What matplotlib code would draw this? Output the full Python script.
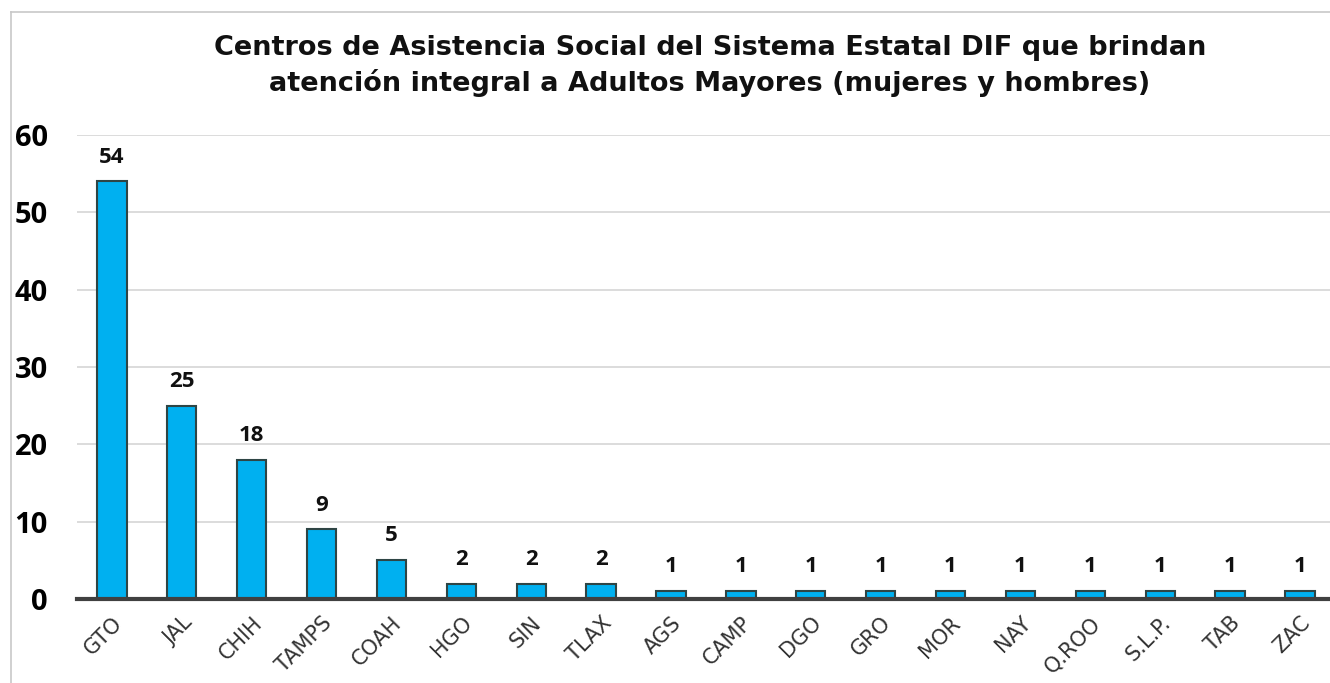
import matplotlib.pyplot as plt
from matplotlib.lines import Line2D

estados = ["GTO", "JAL", "CHIH", "TAMPS", "COAH", "HGO", "SIN", "TLAX", "AGS",
           "CAMP", "DGO", "GRO", "MOR", "NAY", "Q.ROO", "S.L.P.", "TAB", "ZAC"]
centros = [54, 25, 18, 9, 5, 2, 2, 2, 1, 1, 1, 1, 1, 1, 1, 1, 1, 1]
y_ticks = [0, 10, 20, 30, 40, 50, 60]

titulo = ("Centros de Asistencia Social del Sistema Estatal DIF que brindan\n"
          "atención integral a Adultos Mayores (mujeres y hombres)")

fig = plt.figure(figsize=(13.3, 6.83), dpi=100)
ax = fig.add_axes([77 / 1330, 1 - 599 / 683, 1 - 77 / 1330, (599 - 135) / 683])

x = range(len(estados))
ax.bar(x, centros, width=0.42, color="#00B0F0", edgecolor="#2E4545",
       linewidth=1.5, zorder=3)

for xi, v in zip(x, centros):
    ax.annotate(str(v), (xi, v), xytext=(0, 10), textcoords="offset points",
                ha="center", va="bottom", fontsize=16, fontweight="bold",
                family="Open Sans", color="#111111")

ax.set_ylim(0, 60)
ax.set_xlim(-0.5, 17.43)
ax.set_yticks(y_ticks)
ax.set_yticklabels([str(t) for t in y_ticks], fontsize=21, fontweight="bold",
                   family="Open Sans")
ax.set_xticks(list(x))
ax.set_xticklabels(estados, rotation=45, ha="right", rotation_mode="anchor",
                   fontsize=15, family="DejaVu Sans", color="#333333")
ax.tick_params(axis="both", length=0)
ax.tick_params(axis="y", pad=21)
ax.tick_params(axis="x", pad=10)

ax.grid(axis="y", color="#D9D9D9", linewidth=1.3, zorder=0)
for s in ["top", "right", "left"]:
    ax.spines[s].set_visible(False)
ax.spines["bottom"].set_color("#404040")
ax.spines["bottom"].set_linewidth(3)
ax.spines["bottom"].set_zorder(4)

fig.text(710 / 1330, 1 - 66 / 683, titulo, ha="center", va="center",
         fontsize=19.5, fontweight="bold", family="DejaVu Sans",
         linespacing=1.35, color="#111111")

# chart frame
fig.add_artist(Line2D([11 / 1330, 11 / 1330], [0, 1 - 12 / 683],
                      color="#C8C8C8", linewidth=1.2))
fig.add_artist(Line2D([11 / 1330, 1], [1 - 12 / 683, 1 - 12 / 683],
                      color="#C8C8C8", linewidth=1.2))

fig.savefig("out.png", dpi=100)
